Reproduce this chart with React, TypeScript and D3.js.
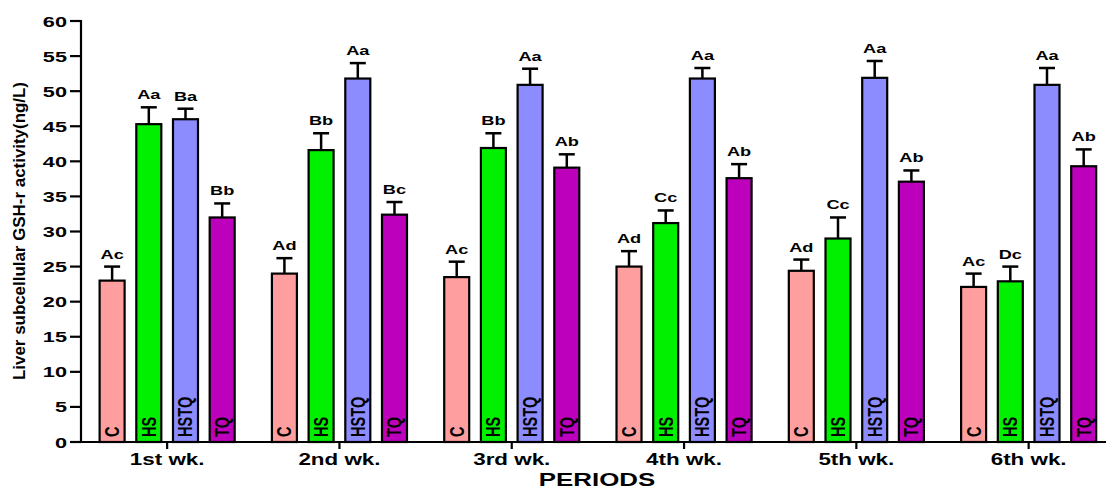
import React from "react";
import * as d3 from "d3";

// Periods along the x axis
const periods = ["1st wk.", "2nd wk.", "3rd wk.", "4th wk.", "5th wk.", "6th wk."];
// Treatment groups
const groups = ["C", "HS", "HSTQ", "TQ"];
const groupColors = ["#FF9E9E", "#00F000", "#8C8CFF", "#BC00BC"];

// Mean values per group (one entry per period)
const valC = [23.0, 24.0, 23.5, 25.0, 24.4, 22.1];
const valHS = [45.3, 41.6, 41.9, 31.2, 29.0, 22.9];
const valHSTQ = [46.0, 51.8, 50.9, 51.8, 51.9, 50.9];
const valTQ = [32.0, 32.4, 39.1, 37.6, 37.1, 39.3];

// Upper error (mean + SE)
const errC = [25.0, 26.2, 25.7, 27.2, 26.0, 24.0];
const errHS = [47.7, 44.0, 44.0, 33.0, 32.0, 25.0];
const errHSTQ = [47.5, 54.0, 53.2, 53.3, 54.3, 53.3];
const errTQ = [34.0, 34.2, 41.0, 39.6, 38.7, 41.7];

// Significance letters
const sigC = ["Ac", "Ad", "Ac", "Ad", "Ad", "Ac"];
const sigHS = ["Aa", "Bb", "Bb", "Cc", "Cc", "Dc"];
const sigHSTQ = ["Ba", "Aa", "Aa", "Aa", "Aa", "Aa"];
const sigTQ = ["Bb", "Bc", "Ab", "Ab", "Ab", "Ab"];

const yTicks = [0, 5, 10, 15, 20, 25, 30, 35, 40, 45, 50, 55, 60];

const values = [valC, valHS, valHSTQ, valTQ];
const errors = [errC, errHS, errHSTQ, errTQ];
const letters = [sigC, sigHS, sigHSTQ, sigTQ];

const W = 1106;
const H = 490;
const SX = 1.4; // horizontal widening of the glyphs
const FONT = "Arial, 'Liberation Sans', Helvetica, sans-serif";

function WideText(props: {
  x: number;
  y: number;
  size: number;
  anchor?: string;
  rotate?: number;
  sx?: number;
  children: React.ReactNode;
  textLength?: number;
}) {
  const { x, y, size, anchor = "middle", rotate = 0, sx = SX, children, textLength } = props;
  return (
    <text
      transform={`translate(${x},${y}) scale(${sx},1) rotate(${rotate})`}
      fontFamily={FONT}
      fontWeight="bold"
      fontSize={size}
      textAnchor={anchor}
      fill="#000"
      textLength={textLength}
      lengthAdjust={textLength ? "spacingAndGlyphs" : undefined}
    >
      {children}
    </text>
  );
}

export default function App() {
  const x0 = 81;
  const y = d3.scaleLinear().domain([0, 60]).range([442, 21]);
  const xOuter = d3.scaleBand().domain(periods).range([x0, x0 + 6 * 172.3]);
  const xInner = d3
    .scaleBand()
    .domain(groups)
    .range([0, xOuter.bandwidth()])
    .paddingInner(0.264)
    .paddingOuter(0.48);
  const bw = xInner.bandwidth();

  return (
    <svg
      width={W}
      height={H}
      style={{ position: "absolute", left: 0, top: 0, background: "#fff" }}
    >
      <rect x={0} y={0} width={W} height={H} fill="#fff" />

      {/* bars */}
      {periods.map((p, pi) =>
        groups.map((g, gi) => {
          const bx = (xOuter(p) as number) + (xInner(g) as number);
          const v = values[gi][pi];
          const e = errors[gi][pi];
          const cx = bx + bw / 2;
          return (
            <g key={`${p}-${g}`}>
              <line x1={cx} x2={cx} y1={y(v)} y2={y(e)} stroke="#000" strokeWidth={2.5} />
              <line x1={cx - 8} x2={cx + 8} y1={y(e)} y2={y(e)} stroke="#000" strokeWidth={2.5} />
              <rect
                x={bx + 1}
                y={y(v)}
                width={bw - 2}
                height={y(0) - y(v)}
                fill={groupColors[gi]}
                stroke="#000"
                strokeWidth={2.2}
              />
              <WideText x={cx + 7} y={437} size={14.5} anchor="start" rotate={-90} sx={1.35}>
                {g}
              </WideText>
              <WideText x={cx} y={y(e) - 8} size={13}>
                {letters[gi][pi]}
              </WideText>
            </g>
          );
        })
      )}

      {/* y axis */}
      <line x1={x0} x2={x0} y1={y(60) - 1} y2={y(0) + 1} stroke="#000" strokeWidth={2.2} />
      {yTicks.map((t) => (
        <g key={t}>
          <line x1={70} x2={x0} y1={y(t)} y2={y(t)} stroke="#000" strokeWidth={2.2} />
          <WideText x={67} y={y(t) + 5.5} size={15.5} anchor="end">
            {t}
          </WideText>
        </g>
      ))}

      {/* x axis */}
      <line x1={x0 - 1} x2={W} y1={y(0)} y2={y(0)} stroke="#000" strokeWidth={2.2} />
      {periods.map((p) => {
        const cx = (xOuter(p) as number) + xOuter.bandwidth() / 2;
        return (
          <g key={p}>
            <line x1={cx} x2={cx} y1={y(0)} y2={y(0) + 7} stroke="#000" strokeWidth={2.2} />
            <WideText x={cx} y={465} size={16}>
              {p}
            </WideText>
          </g>
        );
      })}

      <WideText x={597} y={485.5} size={18.5}>
        PERIODS
      </WideText>

      <WideText x={25} y={231} size={14.5} rotate={-90} sx={1.15} textLength={298}>
        Liver subcellular GSH-r activity(ng/L)
      </WideText>
    </svg>
  );
}
